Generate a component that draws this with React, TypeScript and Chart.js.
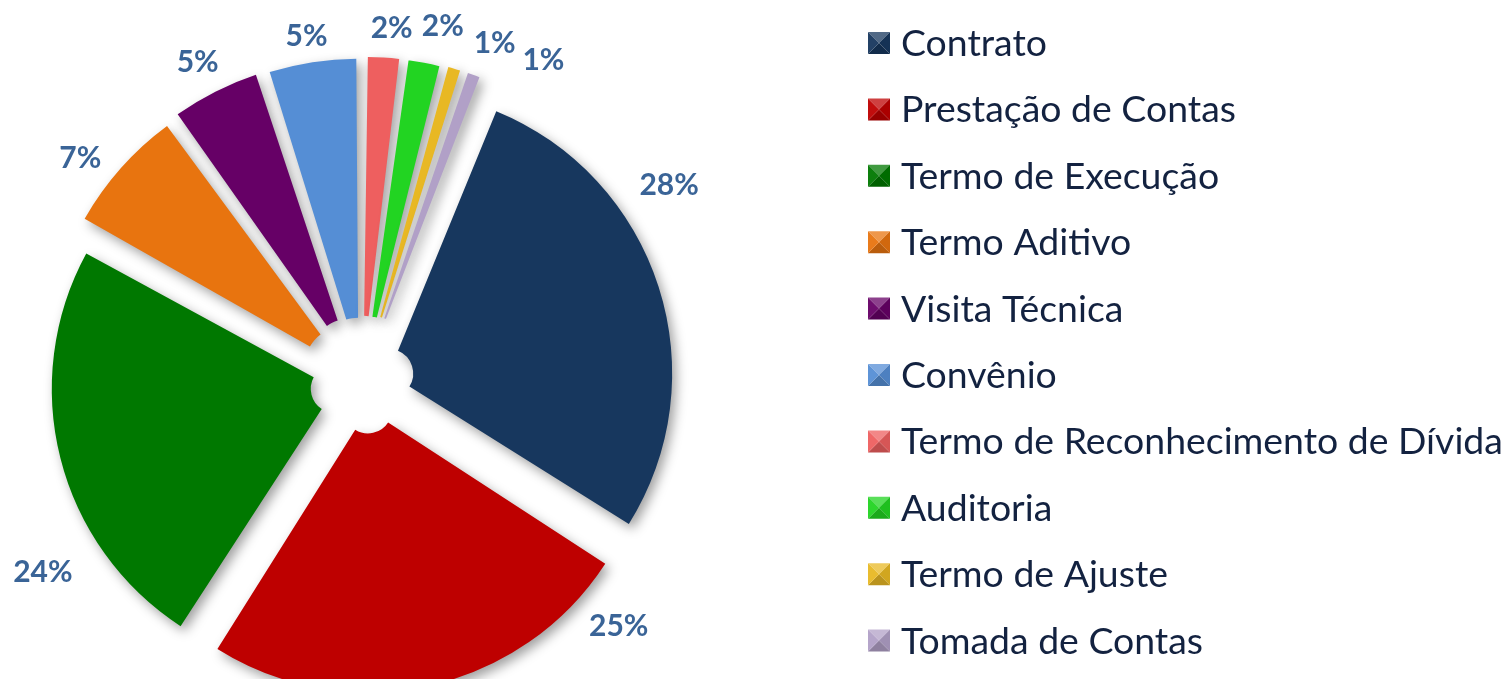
import { useEffect, useRef } from "react";
import { Chart, ArcElement, DoughnutController } from "chart.js";

Chart.register(ArcElement, DoughnutController);

// ---- data ----
const categories = [
  "Contrato",
  "Prestação de Contas",
  "Termo de Execução",
  "Termo Aditivo",
  "Visita Técnica",
  "Convênio",
  "Termo de Reconhecimento de Dívida",
  "Auditoria",
  "Termo de Ajuste",
  "Tomada de Contas",
];
const shares = [28, 25, 24, 7, 5, 5, 2, 2, 1, 1];

// ---- styles ----
const sliceColors = [
  "#17375E",
  "#BE0000",
  "#007800",
  "#E8740F",
  "#660066",
  "#558ED5",
  "#EE5F5F",
  "#22D422",
  "#E8B824",
  "#B1A0C7",
];
const explodeOffsets = [112, 112, 112, 100, 100, 96, 90, 90, 90, 90];
const labelAngleShift = [-14.8, -34, -16.6, -3.2, -0.4, -0.3, 1, 1.8, 5, 9.4];
const labelGap = [83, 73, 90, 78, 78, 69, 73, 83, 82, 88];

function shade(hex: string, amt: number) {
  const n = parseInt(hex.slice(1), 16);
  let r = (n >> 16) & 255, g = (n >> 8) & 255, b = n & 255;
  if (amt >= 0) {
    r = r + (255 - r) * amt; g = g + (255 - g) * amt; b = b + (255 - b) * amt;
  } else {
    r = r * (1 + amt); g = g * (1 + amt); b = b * (1 + amt);
  }
  return `rgb(${Math.round(r)},${Math.round(g)},${Math.round(b)})`;
}

const shadowPlugin = {
  id: "sliceShadow",
  beforeDatasetsDraw(chart: any) {
    const ctx = chart.ctx;
    ctx.save();
    ctx.shadowColor = "rgba(0,0,0,0.38)";
    ctx.shadowBlur = 12;
    ctx.shadowOffsetX = 4;
    ctx.shadowOffsetY = 5;
  },
  afterDatasetsDraw(chart: any) {
    chart.ctx.restore();
  },
};

const pctLabelPlugin = {
  id: "pctLabels",
  afterDraw(chart: any) {
    const ctx = chart.ctx;
    const meta = chart.getDatasetMeta(0);
    const data = chart.data.datasets[0].data as number[];
    const total = data.reduce((a, b) => a + b, 0);
    ctx.save();
    ctx.font = "bold 30px Lato";
    ctx.fillStyle = "#3A6497";
    ctx.textAlign = "center";
    ctx.textBaseline = "middle";
    meta.data.forEach((arc: any, i: number) => {
      const p = arc.getProps(["x", "y", "startAngle", "endAngle", "outerRadius"], true);
      const mid = (p.startAngle + p.endAngle) / 2 + (labelAngleShift[i] * Math.PI) / 180;
      const r = p.outerRadius + labelGap[i];
      const txt = Math.round((data[i] / total) * 100) + "%";
      ctx.fillText(txt, p.x + Math.cos(mid) * r, p.y + Math.sin(mid) * r);
    });
    ctx.restore();
  },
};

const legendPlugin = {
  id: "bevelLegend",
  afterDraw(chart: any) {
    const ctx = chart.ctx;
    const labels = chart.data.labels as string[];
    const colors = chart.data.datasets[0].backgroundColor as string[];
    const boxX = 868, top = 43, step = 66.4, box = 22;
    ctx.save();
    ctx.font = "100px Lato";
    let longest = 0;
    labels.forEach((l) => (longest = Math.max(longest, ctx.measureText(l).width)));
    const size = (100 * 602) / longest;
    ctx.font = `${size.toFixed(1)}px Lato`;
    ctx.textBaseline = "middle";
    ctx.textAlign = "left";
    labels.forEach((l, i) => {
      const cy = top + i * step;
      const x0 = boxX, y0 = cy - box / 2, x1 = boxX + box, y1 = cy + box / 2;
      const cx = boxX + box / 2;
      const c = colors[i];
      const tri = (pts: number[][], fill: string) => {
        ctx.beginPath();
        ctx.moveTo(pts[0][0], pts[0][1]);
        for (let k = 1; k < pts.length; k++) ctx.lineTo(pts[k][0], pts[k][1]);
        ctx.closePath();
        ctx.fillStyle = fill;
        ctx.fill();
      };
      tri([[x0, y0], [x1, y0], [cx, cy]], shade(c, 0.25));
      tri([[x1, y0], [x1, y1], [cx, cy]], shade(c, -0.1));
      tri([[x0, y1], [x1, y1], [cx, cy]], shade(c, -0.2));
      tri([[x0, y0], [x0, y1], [cx, cy]], shade(c, 0.05));
      ctx.fillStyle = "#132240";
      ctx.fillText(l, x1 + 11, cy + 1);
    });
    ctx.restore();
  },
};

export default function App() {
  const ref = useRef<HTMLCanvasElement | null>(null);
  useEffect(() => {
    if (!ref.current) return;
    const chart = new Chart(ref.current, {
      type: "doughnut",
      data: {
        labels: categories,
        datasets: [
          {
            data: shares,
            backgroundColor: sliceColors,
            borderWidth: 0,
            offset: explodeOffsets,
            hoverOffset: 0,
          },
        ],
      },
      options: {
        animation: false,
        responsive: false,
        rotation: 21.8,
        cutout: "8%",
        spacing: 3,
        layout: { padding: { left: 23, right: 810, top: 43, bottom: -42 } },
        plugins: {
          legend: { display: false },
          tooltip: { enabled: false },
        },
        events: [],
      },
      plugins: [shadowPlugin, pctLabelPlugin, legendPlugin],
    });
    return () => chart.destroy();
  }, []);
  return (
    <div style={{ position: "fixed", left: 0, top: 0, width: 1511, height: 679, background: "#fff" }}>
      <canvas ref={ref} width={1511} height={679} style={{ display: "block" }} />
    </div>
  );
}
